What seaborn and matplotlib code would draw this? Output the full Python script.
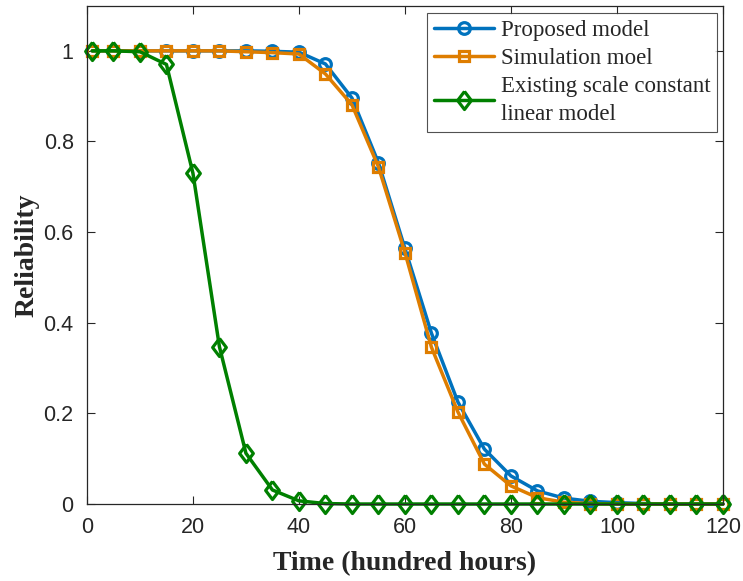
import numpy as np
import pandas as pd
import seaborn as sns
import matplotlib
matplotlib.use("Agg")
import matplotlib.pyplot as plt

# Time points (hundred hours)
time = [1, 5, 10, 15, 20, 25, 30, 35, 40, 45, 50, 55, 60, 65, 70, 75, 80,
        85, 90, 95, 100, 105, 110, 115, 120]

proposed = [1.0, 1.0, 1.0, 1.0, 1.0, 1.0, 1.0, 0.999, 0.997, 0.971, 0.896, 0.753,
            0.564, 0.377, 0.225, 0.121, 0.062, 0.029, 0.013, 0.006, 0.003,
            0.001, 0.0, 0.0, 0.0]
simulation = [1.0, 1.0, 1.0, 1.0, 1.0, 1.0, 0.998, 0.996, 0.993, 0.949, 0.881,
              0.744, 0.555, 0.346, 0.203, 0.088, 0.040, 0.014, 0.004, 0.001,
              0.0, 0.0, 0.0, 0.0, 0.0]
existing = [1.0, 1.0, 0.998, 0.970, 0.730, 0.347, 0.112, 0.031, 0.007, 0.001,
            0.0, 0.0, 0.0, 0.0, 0.0, 0.0, 0.0, 0.0, 0.0, 0.0, 0.0, 0.0, 0.0,
            0.0, 0.0]

labels = ["Proposed model", "Simulation moel",
          "Existing scale constant\nlinear model"]
x_ticks = [0, 20, 40, 60, 80, 100, 120]
y_ticks = [0, 0.2, 0.4, 0.6, 0.8, 1.0]
y_tick_labels = ["0", "0.2", "0.4", "0.6", "0.8", "1"]

sns.set_theme(style="white")
plt.rcParams["font.family"] = ["Liberation Sans", "DejaVu Sans"]

fig = plt.figure(figsize=(7.43, 5.81), dpi=100)
ax = fig.add_axes([0.117, 0.1325, 0.856, 0.858])

# regular (square-proportioned) diamond outline
diamond = [(0, 1), (0.76, 0), (0, -1), (-0.76, 0), (0, 1)]

series = [
    (proposed, labels[0], "#0072BD", "o", 8.4),
    (simulation, labels[1], "#DE7D00", "s", 7.5),
    (existing, labels[2], "#008000", diamond, 13),
]
for values, name, color, marker, msize in series:
    df = pd.DataFrame({"time": time, "reliability": values})
    sns.lineplot(data=df, x="time", y="reliability", ax=ax, color=color,
                 linewidth=2.5, marker=marker, markersize=msize,
                 markerfacecolor="none", markeredgecolor=color,
                 markeredgewidth=2.3, label=name, clip_on=False)

ax.set_xlim(0, 120)
ax.set_ylim(0, 1.1)
ax.set_xticks(x_ticks)
ax.set_yticks(y_ticks)
ax.set_yticklabels(y_tick_labels)
ax.tick_params(direction="in", length=6, width=0.8, colors="#262626",
               labelsize=15.5, top=True, right=True, bottom=True, left=True,
               pad=9.5)
for s in ax.spines.values():
    s.set_color("#262626")
    s.set_linewidth(0.9)

ax.set_xlabel("Time (hundred hours)", fontsize=20, fontweight="bold",
              family="Liberation Serif", color="#262626", labelpad=9)
ax.set_ylabel("Reliability", fontsize=20, fontweight="bold",
              family="Liberation Serif", color="#262626", labelpad=3)

leg = ax.legend(loc="upper right", bbox_to_anchor=(0.991, 0.985),
                prop={"family": "Liberation Serif", "size": 16.5},
                frameon=True, fancybox=False, edgecolor="#262626",
                handlelength=2.6, handletextpad=0.3, labelspacing=0.3,
                borderpad=0.3, borderaxespad=0.0)
leg.get_frame().set_linewidth(0.8)
for t in leg.get_texts():
    t.set_linespacing(1.45)

fig.savefig("out.png", dpi=100)
